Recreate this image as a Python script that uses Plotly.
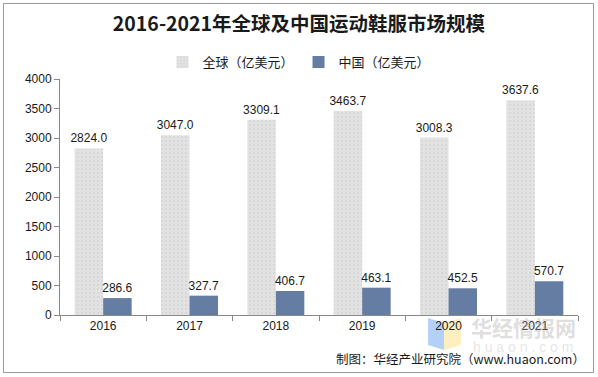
import plotly.graph_objects as go

years = ["2016", "2017", "2018", "2019", "2020", "2021"]
global_vals = [2824.0, 3047.0, 3309.1, 3463.7, 3008.3, 3637.6]
china_vals = [286.6, 327.7, 406.7, 463.1, 452.5, 570.7]
series_names = ["全球（亿美元）", "中国（亿美元）"]
y_ticks = [0, 500, 1000, 1500, 2000, 2500, 3000, 3500, 4000]

W, H = 598, 377
L, R, T, B = 60, 20, 79, 62
pw, ph = W - L - R, H - T - B

def px_x(p):
    return (p - L) / pw

def px_y(p):
    return (H - B - p) / ph

label_font = dict(family="Liberation Sans, Arial", size=12, color="#1a1a1a")

fig = go.Figure()
fig.add_trace(go.Bar(
    x=years, y=global_vals, name=series_names[0],
    marker=dict(color="#dcdcdc", line=dict(width=0),
                pattern=dict(shape=".", fgcolor="#c4c4c4", bgcolor="#e2e2e2", size=4, solidity=0.2)),
    text=[f"{v:.1f}" for v in global_vals], textposition="outside",
    textfont=label_font, constraintext="none", cliponaxis=False,
))
fig.add_trace(go.Bar(
    x=years, y=china_vals, name=series_names[1],
    marker=dict(color="#657ca3", line=dict(width=0)),
    text=[f"{v:.1f}" for v in china_vals], textposition="outside",
    textfont=label_font, constraintext="none", cliponaxis=False,
))

fig.update_layout(
    width=W, height=H,
    margin=dict(l=L, r=R, t=T, b=B, autoexpand=False),
    paper_bgcolor="white", plot_bgcolor="white",
    barmode="group", bargap=0.34, bargroupgap=0,
    font=dict(family="Noto Sans CJK SC", size=12, color="#1a1a1a"),
    title=dict(text="<b>2016-2021年全球及中国运动鞋服市场规模</b>",
               x=0.5, xref="container", xanchor="center",
               y=1 - 24 / H, yref="container", yanchor="middle",
               font=dict(family="Noto Sans CJK SC", size=19.5, color="#1a1a1a")),
    legend=dict(orientation="h", x=0.5, xref="container", xanchor="center",
                y=1 - 62 / H, yref="container", yanchor="middle",
                font=dict(family="Noto Sans CJK SC", size=13, color="#1a1a1a"),
                itemwidth=30, traceorder="normal", bgcolor="rgba(0,0,0,0)"),
    showlegend=True,
)
fig.update_xaxes(
    type="category", showline=True, linecolor="#888888", linewidth=1,
    ticks="outside", tickson="boundaries", ticklen=5, tickcolor="#888888",
    tickfont=label_font, showgrid=False,
)
fig.update_yaxes(
    range=[0, 4000], tickvals=y_ticks, showline=True, linecolor="#888888", linewidth=1,
    ticks="outside", ticklen=5, tickcolor="#888888",
    tickfont=label_font, showgrid=False, zeroline=False,
)

# outer border
fig.add_shape(type="rect", xref="paper", yref="paper",
              x0=px_x(3.5), x1=px_x(593.5), y0=px_y(372.5), y1=px_y(3.5),
              line=dict(color="#9a9a9a", width=1), layer="below")

# watermark logo
fig.add_shape(type="path", xref="paper", yref="paper",
              path=f"M {px_x(428)},{px_y(318)} L {px_x(444)},{px_y(323)} L {px_x(444)},{px_y(350)} L {px_x(428)},{px_y(345)} Z",
              fillcolor="rgba(120,170,240,0.55)", line=dict(width=0), layer="below")
fig.add_shape(type="path", xref="paper", yref="paper",
              path=f"M {px_x(444)},{px_y(323)} L {px_x(461)},{px_y(318)} L {px_x(461)},{px_y(345)} L {px_x(444)},{px_y(350)} Z",
              fillcolor="rgba(250,225,140,0.55)", line=dict(width=0), layer="below")
fig.add_annotation(text="<b>华经情报网</b>", xref="paper", yref="paper",
                   x=px_x(523), y=px_y(327), xanchor="center", yanchor="middle", showarrow=False,
                   font=dict(family="Noto Sans CJK SC", size=21, color="rgba(170,170,170,0.4)"))
fig.add_annotation(text="h u a o n . c o m", xref="paper", yref="paper",
                   x=px_x(523), y=px_y(347), xanchor="center", yanchor="middle", showarrow=False,
                   font=dict(family="Liberation Sans, Arial", size=14, color="rgba(190,190,190,0.4)"))

# source footer
fig.add_annotation(text="制图：华经产业研究院（www.huaon.com）", xref="paper", yref="paper",
                   x=px_x(587), y=px_y(358), xanchor="right", yanchor="middle", showarrow=False,
                   font=dict(family="Noto Sans CJK SC", size=12.5, color="#1a1a1a"))

fig.write_html("out.html", config={"displayModeBar": False},
               post_script="document.body.style.margin='0';document.body.style.overflow='hidden';")
